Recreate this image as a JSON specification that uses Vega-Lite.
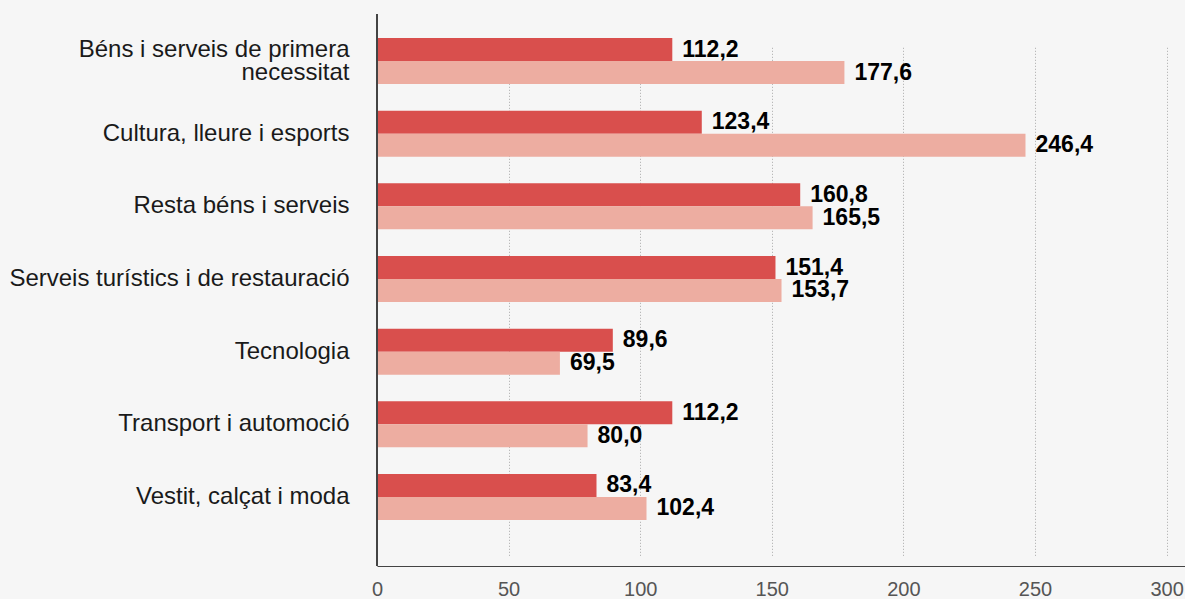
{
  "$schema": "https://vega.github.io/schema/vega-lite/v6.json",
  "width": 808,
  "height": 552,
  "autosize": {"type": "none"},
  "padding": {"left": 377, "top": 14, "right": 0, "bottom": 33},
  "background": "#f6f6f6",
  "config": {
    "view": {"stroke": null},
    "font": "Liberation Sans"
  },
  "data": {
    "values": [
      {"category": "Béns i serveis de primera necessitat", "series": "A", "value": 112.2, "label": "112,2"},
      {"category": "Béns i serveis de primera necessitat", "series": "B", "value": 177.6, "label": "177,6"},
      {"category": "Cultura, lleure i esports", "series": "A", "value": 123.4, "label": "123,4"},
      {"category": "Cultura, lleure i esports", "series": "B", "value": 246.4, "label": "246,4"},
      {"category": "Resta béns i serveis", "series": "A", "value": 160.8, "label": "160,8"},
      {"category": "Resta béns i serveis", "series": "B", "value": 165.5, "label": "165,5"},
      {"category": "Serveis turístics i de restauració", "series": "A", "value": 151.4, "label": "151,4"},
      {"category": "Serveis turístics i de restauració", "series": "B", "value": 153.7, "label": "153,7"},
      {"category": "Tecnologia", "series": "A", "value": 89.6, "label": "89,6"},
      {"category": "Tecnologia", "series": "B", "value": 69.5, "label": "69,5"},
      {"category": "Transport i automoció", "series": "A", "value": 112.2, "label": "112,2"},
      {"category": "Transport i automoció", "series": "B", "value": 80.0, "label": "80,0"},
      {"category": "Vestit, calçat i moda", "series": "A", "value": 83.4, "label": "83,4"},
      {"category": "Vestit, calçat i moda", "series": "B", "value": 102.4, "label": "102,4"}
    ]
  },
  "layer": [
    {
      "mark": {"type": "bar"},
      "encoding": {
        "y": {
          "field": "category",
          "type": "nominal",
          "sort": null,
          "scale": {"range": [10.7, 519.3], "paddingInner": 0.367, "paddingOuter": 0.1835},
          "axis": {
            "title": null,
            "domain": false,
            "ticks": false,
            "grid": false,
            "labelFontSize": 24,
            "labelColor": "#1a1a1a",
            "labelPadding": 28,
            "labelLineHeight": 23,
            "labelLimit": 400,
            "labelExpr": "datum.value == 'Béns i serveis de primera necessitat' ? ['Béns i serveis de primera', 'necessitat'] : datum.value",
            "labelOffset": {"condition": {"test": "datum.value == 'Béns i serveis de primera necessitat'", "value": -11.5}, "value": 0}
          }
        },
        "yOffset": {"field": "series", "type": "nominal", "scale": {"paddingInner": 0, "paddingOuter": 0}},
        "x": {
          "field": "value",
          "type": "quantitative",
          "scale": {"domain": [0, 307], "nice": false},
          "axis": {
            "title": null,
            "values": [0, 50, 100, 150, 200, 250, 300],
            "domain": true,
            "domainColor": "#444444",
            "domainWidth": 1,
            "ticks": false,
            "grid": true,
            "gridColor": "#aaaaaa",
            "gridDash": [1, 2],
            "gridWidth": 1,
            "labelFontSize": 20,
            "labelColor": "#555555",
            "labelPadding": 13,
            "labelOverlap": false,
            "labelBound": false,
            "labelFlush": false
          }
        },
        "color": {
          "field": "series",
          "type": "nominal",
          "scale": {"domain": ["A", "B"], "range": ["#d94f4d", "#edada1"]},
          "legend": null
        }
      }
    },
    {
      "mark": {"type": "text", "align": "left", "baseline": "middle", "dx": 10, "fontSize": 23, "fontWeight": "bold", "color": "#000000"},
      "encoding": {
        "y": {"field": "category", "type": "nominal", "sort": null},
        "yOffset": {"field": "series", "type": "nominal"},
        "x": {"field": "value", "type": "quantitative"},
        "text": {"field": "label", "type": "nominal"}
      }
    },
    {
      "mark": {"type": "rule", "color": "#444444", "strokeWidth": 1},
      "encoding": {
        "x": {"datum": 0, "type": "quantitative"}
      }
    }
  ]
}
